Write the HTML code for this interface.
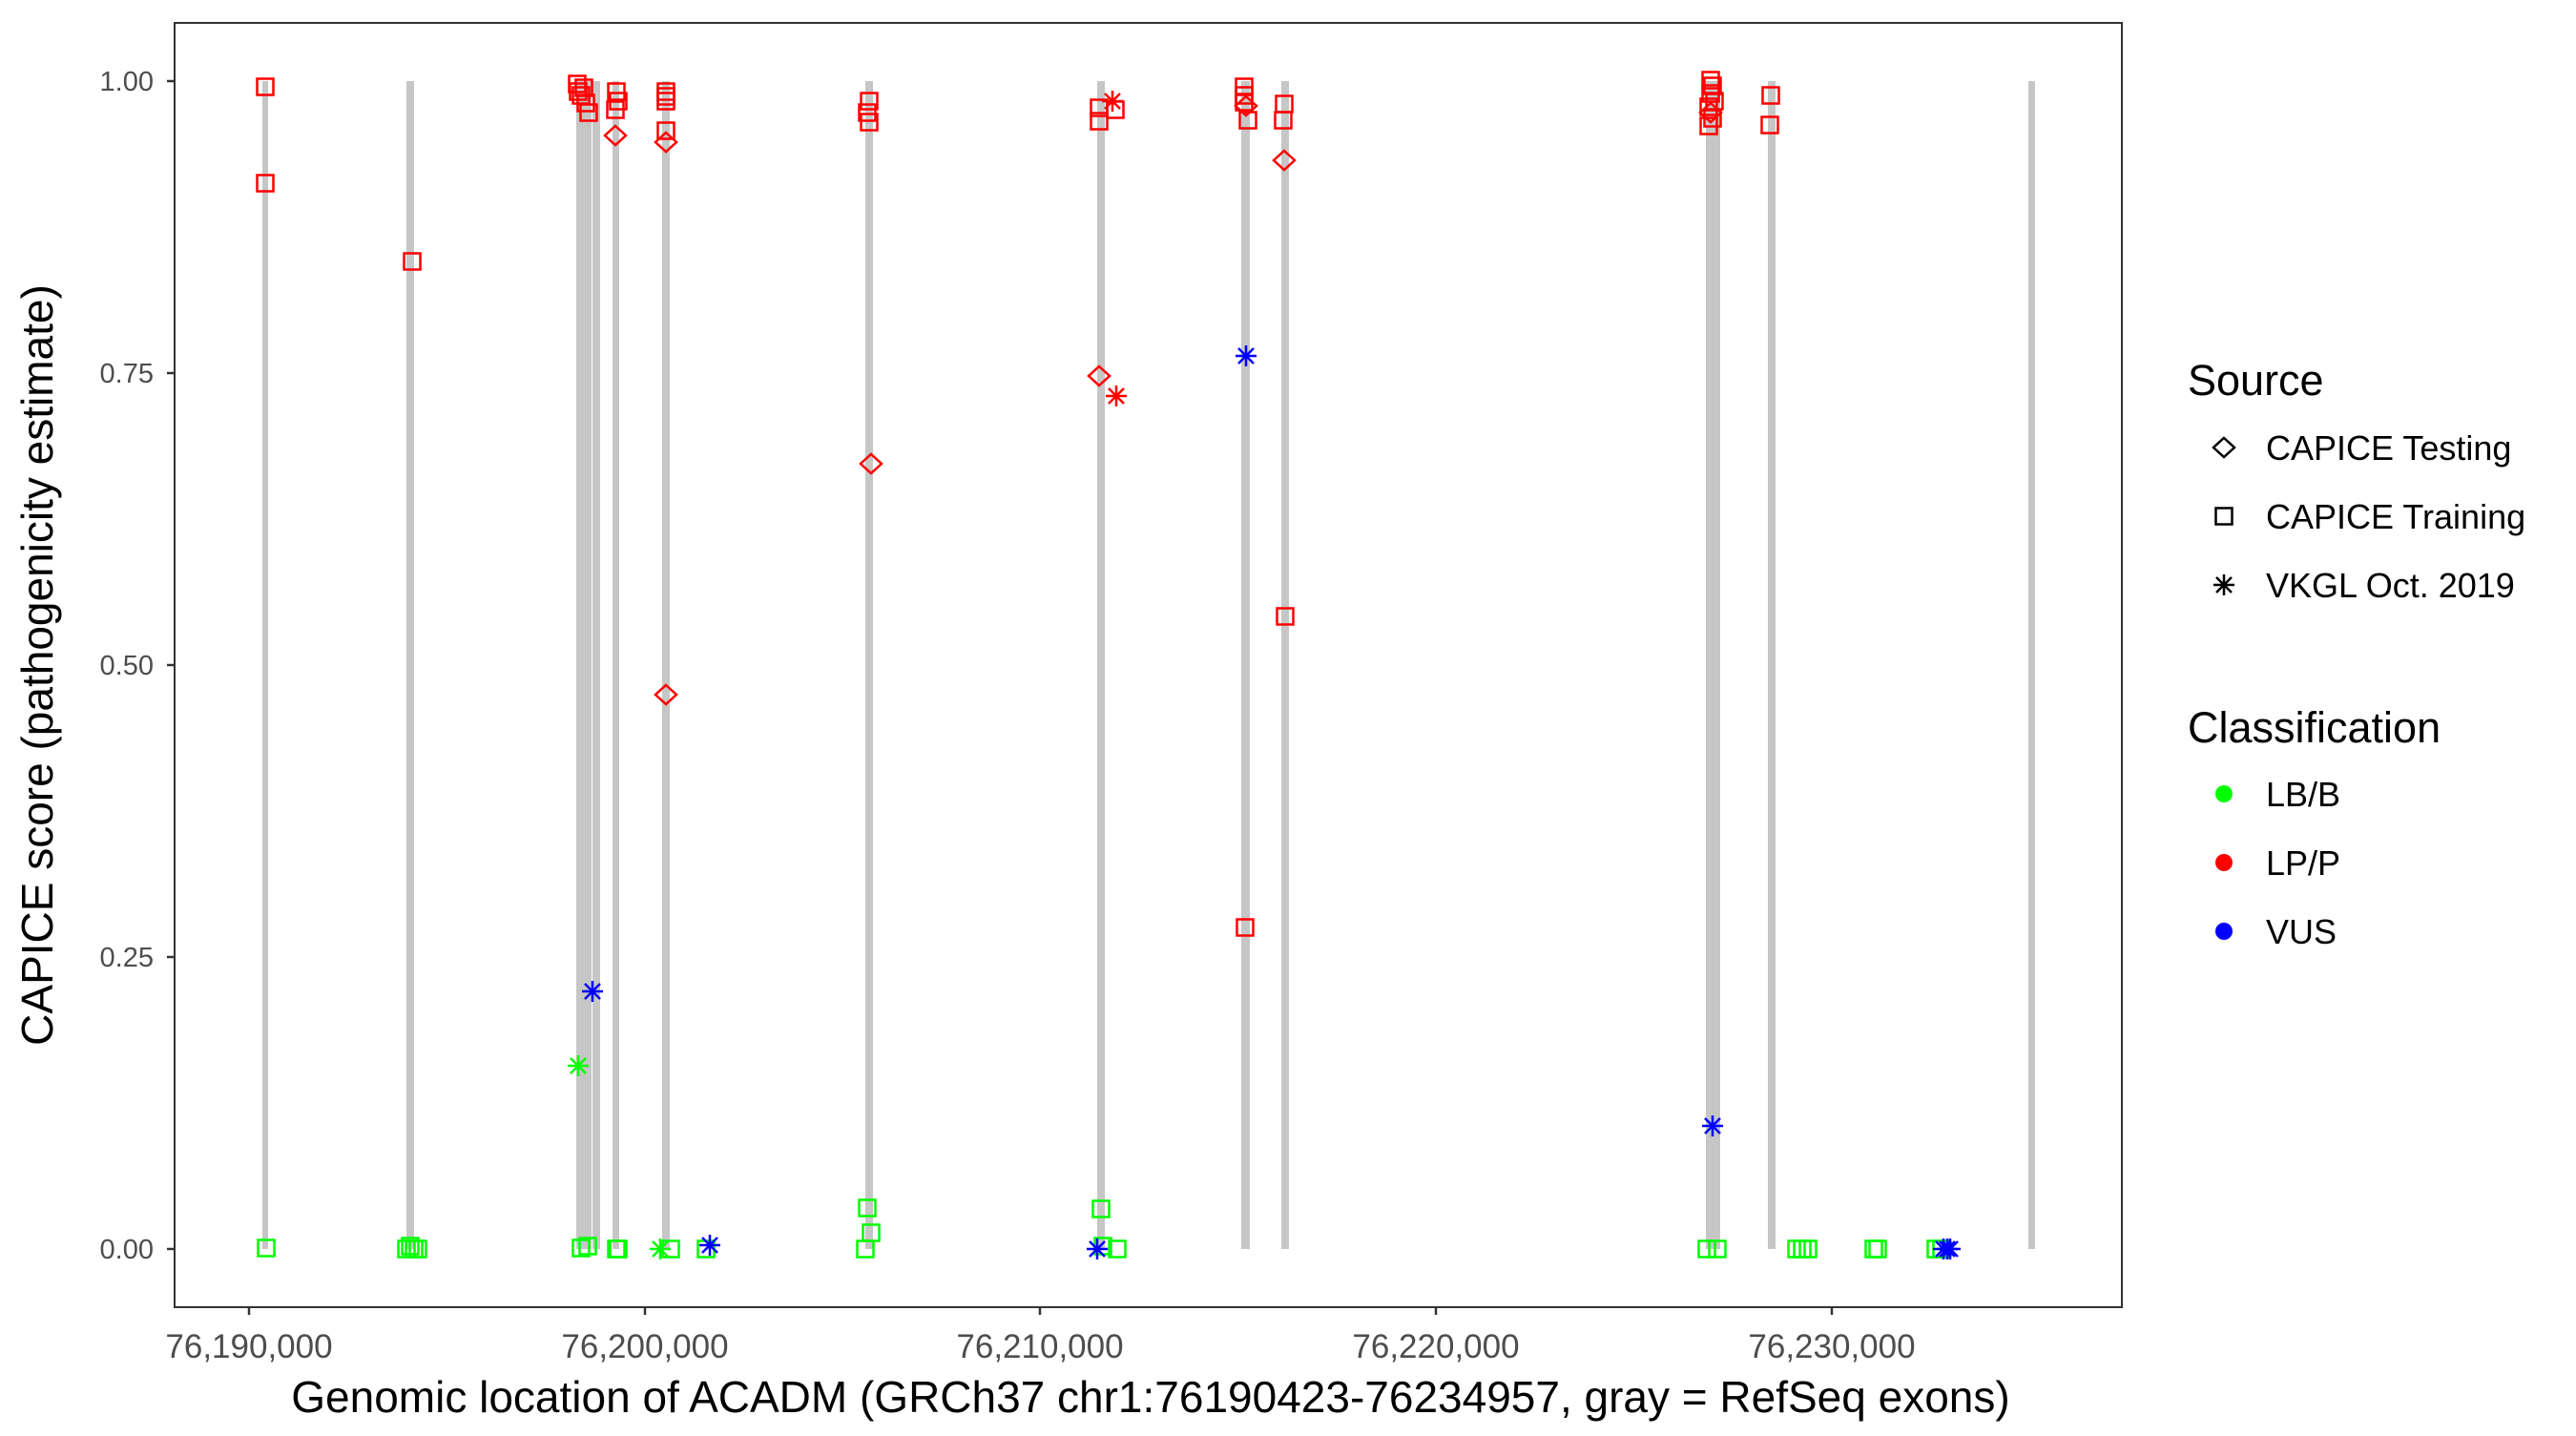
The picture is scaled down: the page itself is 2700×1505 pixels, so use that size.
<!DOCTYPE html>
<html><head><meta charset="utf-8"><style>
html,body{margin:0;padding:0;background:#fff;}
svg text{font-family:"Liberation Sans",sans-serif;}
</style></head><body>
<svg width="2700" height="1500" viewBox="0 0 2700 1500" xmlns="http://www.w3.org/2000/svg">
<defs>
<g id="sq"><rect x="-8.5" y="-8.5" width="17" height="17" fill="none" stroke-width="2.5"/></g>
<g id="dm"><polygon points="0,-10 11,0 0,10 -11,0" fill="none" stroke-width="2.5"/></g>
<g id="st"><path d="M-11,0H11M0,-11V11M-8,-8L8,8M-8,8L8,-8" fill="none" stroke-width="2.5"/></g>
</defs>
<rect width="2700" height="1500" fill="#fff"/>
<g fill="#c6c6c6">
<rect x="275" y="85" width="6" height="1224"/>
<rect x="426" y="85" width="8" height="1224"/>
<rect x="604" y="85" width="16" height="1224"/>
<rect x="621" y="85" width="8" height="1224"/>
<rect x="642" y="85" width="7" height="1224"/>
<rect x="694" y="85" width="8" height="1224"/>
<rect x="907" y="85" width="8" height="1224"/>
<rect x="1150" y="85" width="8" height="1224"/>
<rect x="1301" y="85" width="9" height="1224"/>
<rect x="1343" y="85" width="8" height="1224"/>
<rect x="1788" y="85" width="15" height="1224"/>
<rect x="1853" y="85" width="8" height="1224"/>
<rect x="2126" y="85" width="7" height="1224"/>
</g>
<g stroke="#ff0000">
<use href="#sq" x="278" y="91"/><use href="#sq" x="278" y="192"/><use href="#sq" x="432" y="274"/>
<use href="#sq" x="605" y="88"/><use href="#sq" x="609" y="100"/><use href="#sq" x="612" y="92"/><use href="#sq" x="614" y="108"/><use href="#sq" x="617" y="118"/><use href="#sq" x="606" y="96"/>
<use href="#sq" x="646" y="96"/><use href="#sq" x="648" y="106"/><use href="#sq" x="645" y="115"/><use href="#dm" x="645" y="142"/>
<use href="#sq" x="698" y="96"/><use href="#sq" x="698" y="101"/><use href="#sq" x="698" y="106"/><use href="#sq" x="698" y="137"/>
<use href="#dm" x="698" y="149"/><use href="#dm" x="698" y="728"/>
<use href="#sq" x="911" y="106"/><use href="#sq" x="909" y="118"/><use href="#sq" x="911" y="128"/><use href="#dm" x="913" y="486"/>
<use href="#sq" x="1152" y="113"/><use href="#sq" x="1152" y="127"/><use href="#sq" x="1169" y="115"/><use href="#st" x="1166" y="106"/>
<use href="#dm" x="1152" y="394"/><use href="#st" x="1170" y="415"/>
<use href="#sq" x="1304" y="91"/><use href="#sq" x="1304" y="100"/><use href="#sq" x="1304" y="107"/><use href="#dm" x="1306" y="111"/><use href="#sq" x="1308" y="126"/>
<use href="#sq" x="1305" y="972"/>
<use href="#sq" x="1346" y="109"/><use href="#sq" x="1345" y="126"/><use href="#dm" x="1346" y="168"/><use href="#sq" x="1347" y="646"/>
<use href="#sq" x="1793" y="84"/><use href="#sq" x="1795" y="90"/><use href="#sq" x="1793" y="98"/><use href="#sq" x="1797" y="106"/><use href="#sq" x="1791" y="112"/><use href="#dm" x="1793" y="118"/><use href="#sq" x="1795" y="124"/><use href="#sq" x="1791" y="132"/>
<use href="#sq" x="1856" y="100"/><use href="#sq" x="1855" y="131"/>
</g>
<g stroke="#00ff00">
<use href="#sq" x="279" y="1308"/>
<use href="#sq" x="426" y="1309"/><use href="#sq" x="430" y="1306"/><use href="#sq" x="434" y="1309"/><use href="#sq" x="438" y="1309"/>
<use href="#st" x="606" y="1117"/>
<use href="#sq" x="609" y="1308"/><use href="#sq" x="616" y="1306"/><use href="#sq" x="646" y="1309"/><use href="#sq" x="648" y="1309"/>
<use href="#st" x="692" y="1309"/><use href="#sq" x="703" y="1309"/><use href="#sq" x="740" y="1309"/>
<use href="#sq" x="909" y="1266"/><use href="#sq" x="913" y="1292"/><use href="#sq" x="907" y="1309"/>
<use href="#sq" x="1154" y="1267"/><use href="#sq" x="1156" y="1306"/><use href="#sq" x="1171" y="1309"/>
<use href="#sq" x="1789" y="1309"/><use href="#sq" x="1800" y="1309"/>
<use href="#sq" x="1883" y="1309"/><use href="#sq" x="1889" y="1309"/><use href="#sq" x="1895" y="1309"/>
<use href="#sq" x="1964" y="1309"/><use href="#sq" x="1968" y="1309"/>
<use href="#sq" x="2029" y="1309"/><use href="#sq" x="2035" y="1309"/>
</g>
<g stroke="#0000ff">
<use href="#st" x="621" y="1039"/><use href="#st" x="744" y="1305"/>
<use href="#st" x="1150" y="1309"/><use href="#st" x="1306" y="373"/><use href="#st" x="1795" y="1180"/>
<use href="#st" x="2037" y="1309"/><use href="#st" x="2041" y="1309"/><use href="#st" x="2044" y="1309"/>
</g>
<rect x="183" y="24" width="2041" height="1346" fill="none" stroke="#333" stroke-width="2"/>
<g stroke="#333" stroke-width="2.5">
<line x1="175" y1="85" x2="183" y2="85"/><line x1="175" y1="391" x2="183" y2="391"/><line x1="175" y1="697" x2="183" y2="697"/><line x1="175" y1="1003" x2="183" y2="1003"/><line x1="175" y1="1309" x2="183" y2="1309"/>
<line x1="261" y1="1370" x2="261" y2="1378"/><line x1="676" y1="1370" x2="676" y2="1378"/><line x1="1090" y1="1370" x2="1090" y2="1378"/><line x1="1505" y1="1370" x2="1505" y2="1378"/><line x1="1920" y1="1370" x2="1920" y2="1378"/>
</g>
<g font-size="29" fill="#4d4d4d" text-anchor="end">
<text x="161" y="95">1.00</text><text x="161" y="401">0.75</text><text x="161" y="707">0.50</text><text x="161" y="1013">0.25</text><text x="161" y="1319">0.00</text>
</g>
<g font-size="35" fill="#4d4d4d" text-anchor="middle">
<text x="261" y="1423">76,190,000</text><text x="676" y="1423">76,200,000</text><text x="1090" y="1423">76,210,000</text><text x="1505" y="1423">76,220,000</text><text x="1920" y="1423">76,230,000</text>
</g>
<text x="1206" y="1480" font-size="46" text-anchor="middle" fill="#000">Genomic location of ACADM (GRCh37 chr1:76190423-76234957, gray = RefSeq exons)</text>
<text transform="translate(55,697) rotate(-90)" font-size="46" text-anchor="middle" fill="#000">CAPICE score (pathogenicity estimate)</text>
<text x="2293" y="414" font-size="45" fill="#000">Source</text>
<g stroke="#000"><use href="#dm" x="2331" y="469"/><use href="#sq" x="2331" y="541"/><use href="#st" x="2331" y="613"/></g>
<g font-size="36" fill="#000">
<text x="2375" y="482">CAPICE Testing</text><text x="2375" y="554">CAPICE Training</text><text x="2375" y="626">VKGL Oct. 2019</text>
</g>
<text x="2293" y="778" font-size="45" fill="#000">Classification</text>
<circle cx="2331" cy="832" r="9" fill="#00ff00"/><circle cx="2331" cy="904" r="9" fill="#ff0000"/><circle cx="2331" cy="976" r="9" fill="#0000ff"/>
<g font-size="36" fill="#000">
<text x="2375" y="845">LB/B</text><text x="2375" y="917">LP/P</text><text x="2375" y="989">VUS</text>
</g>
</svg>
</body></html>
